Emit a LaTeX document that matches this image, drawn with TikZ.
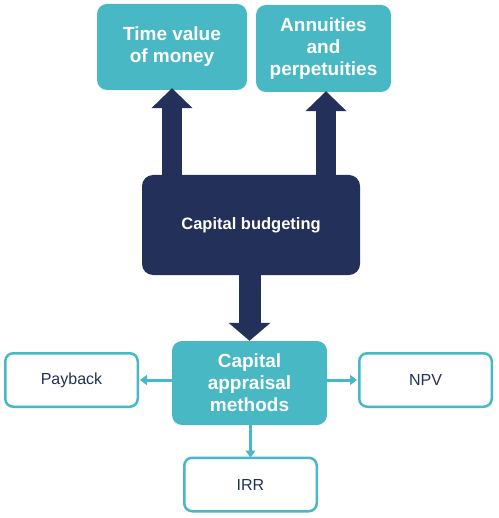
\documentclass[tikz,border=0pt]{standalone}
\usepackage{fontspec}
\setmainfont{Liberation Sans}
\usetikzlibrary{arrows.meta}
\definecolor{teal}{HTML}{48B9C4}
\definecolor{navy}{HTML}{22305A}
\begin{document}
\begin{tikzpicture}[x=1pt,y=-1pt,
  tealbox/.style={rectangle, rounded corners=10pt, fill=teal, text=white, align=center,
    font=\fontsize{19}{22}\selectfont\bfseries, inner sep=0pt},
  navybox/.style={rectangle, rounded corners=11pt, fill=navy, text=white, align=center,
    font=\fontsize{16.5}{20}\selectfont\bfseries, inner sep=0pt},
  whitebox/.style={rectangle, rounded corners=8pt, draw=teal, line width=2.5pt, fill=white,
    text=navy, align=center, font=\fontsize{16}{19}\selectfont, inner sep=0pt,
    minimum width=132.5pt, minimum height=53.5pt},
  bigarrow/.style={navy, line width=20pt, -{Triangle[width=40pt,length=20pt]}},
  smallarrow/.style={teal, line width=3pt, -{Triangle[width=10pt,length=7pt]}}
]
\useasboundingbox (0,0) rectangle (498,518);
\node[tealbox, minimum width=150pt, minimum height=86pt] (tvm) at (172,47) {Time value\\of money};
\node[tealbox, minimum width=135pt, minimum height=87pt] (ann) at (323.5,48.5) {Annuities\\and\\perpetuities};
\node[navybox, minimum width=218pt, minimum height=100pt] (cb) at (251,225) {Capital budgeting};
\node[tealbox, minimum width=155pt, minimum height=84pt] (cam) at (249.5,383) {Capital\\appraisal\\methods};
\node[whitebox] (pb) at (71.5,380) {\raisebox{-2pt}{Payback}};
\node[whitebox] (npv) at (425.5,380) {\raisebox{-2pt}{NPV}};
\node[whitebox] (irr) at (250.5,484.5) {\raisebox{-2pt}{IRR}};
\draw[bigarrow] (tvm.south |- cb.north) -- ([yshift=2pt]tvm.south);
\draw[bigarrow] ([xshift=2.5pt]ann.south |- cb.north) -- ([xshift=2.5pt,yshift=1pt]ann.south);
\draw[bigarrow, line width=22pt, -{Triangle[width=41pt,length=18pt]}] (cam.north |- cb.south) -- (cam.north);
\draw[smallarrow] (cam.west |- pb.east) -- ([xshift=1pt]pb.east);
\draw[smallarrow] (cam.east |- npv.west) -- ([xshift=-1pt]npv.west);
\draw[smallarrow] (cam.south -| irr.north) -- ([yshift=-1pt]irr.north);
\end{tikzpicture}
\end{document}
